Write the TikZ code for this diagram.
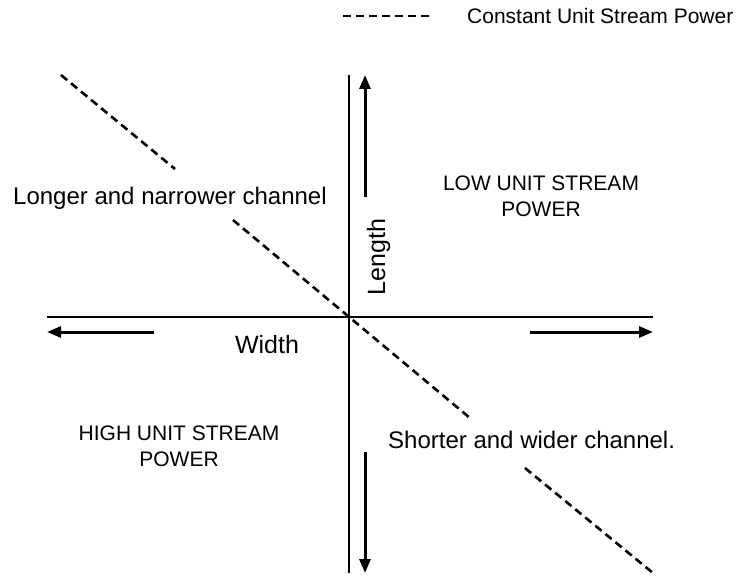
\documentclass[tikz,border=0pt]{standalone}
\usepackage{fontspec}
\setmainfont{Liberation Sans}
\usetikzlibrary{arrows.meta}
\begin{document}
\begin{tikzpicture}[x=1pt,y=-1pt,
  axis/.style={line width=1.7pt},
  dirarrow/.style={line width=3pt,-{Triangle[length=14pt,width=11pt]}},
  cusp/.style={line width=2.6pt,dash pattern=on 8pt off 5pt},
  bigtext/.style={font=\fontsize{24}{28}\selectfont, inner sep=0pt},
  axtext/.style={font=\fontsize{25}{29}\selectfont, inner sep=0pt},
  smalltext/.style={font=\fontsize{21}{26}\selectfont, inner sep=0pt, align=center}]
\useasboundingbox (0,0) rectangle (741,577);
% axes
\coordinate (hl) at (47,317);
\coordinate (hr) at (653,317);
\coordinate (vt) at (349,75);
\coordinate (vb) at (349,573);
\draw[axis] (hl) -- (hr);
\draw[axis] (vt) -- (vb);
% direction arrows
\coordinate (upS) at (365,197);
\coordinate (upE) at (365,75);
\coordinate (dnS) at (365,452);
\coordinate (dnE) at (365,573);
\coordinate (lfS) at (154,332);
\coordinate (lfE) at (47,332);
\coordinate (rtS) at (530,332);
\coordinate (rtE) at (653,332);
\draw[dirarrow] (upS) -- (upE);
\draw[dirarrow] (dnS) -- (dnE);
\draw[dirarrow] (lfS) -- (lfE);
\draw[dirarrow] (rtS) -- (rtE);
% constant unit stream power line
\coordinate (d1) at (61,75);
\coordinate (d2) at (175,169);
\coordinate (d3) at (233,220);
\coordinate (d4) at (470,418);
\coordinate (d5) at (525,468);
\coordinate (d6) at (653,573);
\draw[cusp] (d1) -- (d2);
\draw[cusp] (d3) -- (d4);
\draw[cusp] (d5) -- (d6);
% legend
\coordinate (lg1) at (343,16);
\coordinate (lg2) at (430,16);
\draw[cusp] (lg1) -- (lg2);
\node[smalltext, anchor=base west] (legend) at (467,23.5) {Constant Unit Stream Power};
% labels
\node[bigtext, anchor=base west] (longer) at (13,205) {Longer and narrower channel};
\node[bigtext, anchor=base west] (shorter) at (388,448) {Shorter and wider channel.};
\node[smalltext] (low) at (541,196) {LOW UNIT STREAM\\POWER};
\node[smalltext] (high) at (179,446) {HIGH UNIT STREAM\\POWER};
\node[axtext, anchor=base] (width) at (267,353) {Width};
\node[axtext, anchor=base, rotate=90] (length) at (385,257) {Length};
\end{tikzpicture}
\end{document}
